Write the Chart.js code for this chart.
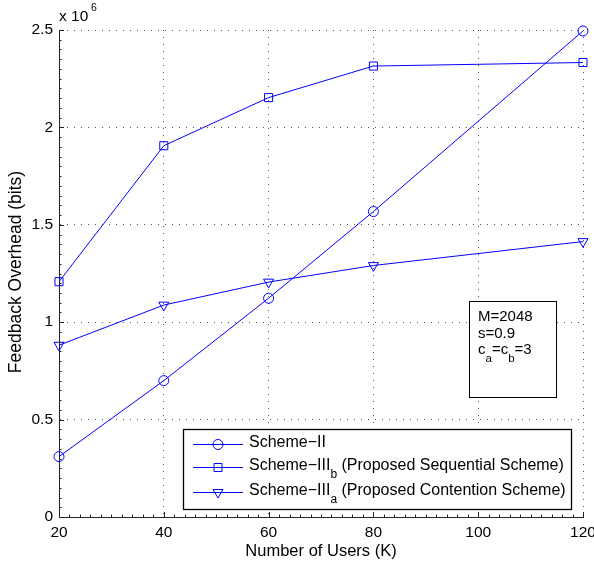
<!DOCTYPE html>
<html>
<head>
<meta charset="utf-8">
<script src="https://cdn.jsdelivr.net/npm/chart.js@4.4.0/dist/chart.umd.min.js"></script>
<style>
  html, body { margin: 0; padding: 0; background: #fff; }
  #wrap { width: 594px; height: 565px; }
</style>
</head>
<body>
<div id="wrap"><canvas id="c" width="594" height="565"></canvas></div>
<script>
// ---------- DATA ----------
const USERS = [20, 40, 60, 80, 120];
const SCHEME_II = [0.31, 0.70, 1.123, 1.568, 2.495];
const SCHEME_IIIB = [1.208, 1.906, 2.153, 2.315, 2.333];
const SCHEME_IIIA = [0.882, 1.088, 1.206, 1.291, 1.414];

const X_TICKS = [20, 40, 60, 80, 100, 120];
const Y_TICKS = [0, 0.5, 1, 1.5, 2, 2.5];
const Y_TICK_LABELS = ["0", "0.5", "1", "1.5", "2", "2.5"];

const BLUE = "#0000ff";
const FONT = "'Liberation Sans', Arial, Helvetica, sans-serif";

function series(values) {
  return values.map((v, i) => ({ x: USERS[i], y: v }));
}

// ---------- OVERLAY (ticks, labels, legend, note) ----------
const overlay = {
  id: "overlay",
  afterDraw(chart) {
    const { ctx, chartArea: a } = chart;
    const xs = chart.scales.x, ys = chart.scales.y;
    ctx.save();

    // inward ticks, MATLAB style
    ctx.strokeStyle = "#222";
    ctx.lineWidth = 1;
    ctx.beginPath();
    for (let v = 20; v <= 120.001; v += 2) {
      const px = Math.round(xs.getPixelForValue(v)) + 0.5;
      const len = Math.abs(v % 20) < 0.01 ? 5 : 2.5;
      ctx.moveTo(px, a.bottom);
      ctx.lineTo(px, a.bottom - len);
    }
    for (let i = 0; i <= 50; i++) {
      const v = i * 0.05;
      const py = Math.round(ys.getPixelForValue(v)) + 0.5;
      const len = i % 10 === 0 ? 5 : 2.5;
      ctx.moveTo(a.left, py);
      ctx.lineTo(a.left + len, py);
    }
    ctx.stroke();

    // tick labels
    ctx.fillStyle = "#000";
    ctx.font = "15.5px " + FONT;
    ctx.textBaseline = "middle";
    ctx.textAlign = "right";
    Y_TICKS.forEach((v, i) => {
      ctx.fillText(Y_TICK_LABELS[i], a.left - 6, ys.getPixelForValue(v));
    });
    ctx.textAlign = "center";
    X_TICKS.forEach(v => {
      ctx.fillText(String(v), xs.getPixelForValue(v), a.bottom + 16);
    });

    // axis titles
    ctx.font = "16.5px " + FONT;
    ctx.fillText("Number of Users (K)", (a.left + a.right) / 2, a.bottom + 34);
    ctx.save();
    ctx.translate(16, 272);
    ctx.rotate(-Math.PI / 2);
    ctx.font = "17.5px " + FONT;
    ctx.fillText("Feedback Overhead (bits)", 0, 0);
    ctx.restore();

    // exponent
    ctx.textAlign = "left";
    ctx.font = "15.5px " + FONT;
    ctx.fillText("x 10", 59, 17);
    ctx.font = "10.5px " + FONT;
    ctx.fillText("6", 91, 8);

    // note box
    ctx.lineWidth = 1;
    ctx.strokeStyle = "#000";
    ctx.fillStyle = "#fff";
    ctx.fillRect(469.5, 301.5, 87, 96);
    ctx.strokeRect(469.5, 301.5, 87, 96);
    ctx.fillStyle = "#000";
    ctx.font = "15px " + FONT;
    ctx.fillText("M=2048", 478, 317);
    ctx.fillText("s=0.9", 478, 334);
    let tx = 478;
    const parts = [["c", 0], ["a", 1], ["=c", 0], ["b", 1], ["=3", 0]];
    parts.forEach(([t, sub]) => {
      ctx.font = (sub ? "11.5px " : "15px ") + FONT;
      ctx.fillText(t, tx, sub ? 359 : 350);
      tx += ctx.measureText(t).width;
    });

    // legend
    ctx.fillStyle = "#fff";
    ctx.fillRect(183, 429, 388, 80);
    ctx.lineWidth = 1.3;
    ctx.strokeStyle = "#000";
    ctx.strokeRect(183.5, 429.5, 388, 80);
    const rows = [
      { y: 444, style: "circle", main: "Scheme\u2212II", sub: "", rest: "" },
      { y: 467, style: "rect", main: "Scheme\u2212III", sub: "b", rest: " (Proposed Sequential Scheme)" },
      { y: 492, style: "tri", main: "Scheme\u2212III", sub: "a", rest: " (Proposed Contention Scheme)" }
    ];
    rows.forEach(r => {
      ctx.strokeStyle = BLUE;
      ctx.lineWidth = 1;
      ctx.beginPath();
      ctx.moveTo(193, r.y + 0.5);
      ctx.lineTo(243, r.y + 0.5);
      ctx.stroke();
      ctx.beginPath();
      const mx = 218, my = r.y + 0.5;
      if (r.style === "circle") {
        ctx.arc(mx, my, 5, 0, Math.PI * 2);
      } else if (r.style === "rect") {
        ctx.rect(mx - 4, my - 4, 8, 8);
      } else {
        ctx.moveTo(mx - 5, my - 3);
        ctx.lineTo(mx + 5, my - 3);
        ctx.lineTo(mx, my + 5.5);
        ctx.closePath();
      }
      ctx.stroke();

      ctx.fillStyle = "#000";
      let lx = 249;
      ctx.font = "16px " + FONT;
      ctx.fillText(r.main, lx, r.y - 1);
      lx += ctx.measureText(r.main).width;
      if (r.sub) {
        ctx.font = "12px " + FONT;
        ctx.fillText(r.sub, lx, r.y + 8);
        lx += ctx.measureText(r.sub).width;
        ctx.font = "16px " + FONT;
        ctx.fillText(r.rest, lx, r.y - 1);
      }
    });

    ctx.restore();
  }
};

// ---------- CHART ----------
const common = {
  borderColor: BLUE,
  backgroundColor: "rgba(0,0,0,0)",
  pointBorderColor: BLUE,
  pointBackgroundColor: "rgba(0,0,0,0)",
  borderWidth: 1,
  pointBorderWidth: 1,
  tension: 0,
  clip: false
};

new Chart(document.getElementById("c"), {
  type: "line",
  data: {
    datasets: [
      { ...common, label: "Scheme-II", data: series(SCHEME_II), pointStyle: "circle", pointRadius: 5 },
      { ...common, label: "Scheme-IIIb", data: series(SCHEME_IIIB), pointStyle: "rect", pointRadius: 5.7 },
      { ...common, label: "Scheme-IIIa", data: series(SCHEME_IIIA), pointStyle: "triangle", pointRadius: 5.8, pointRotation: 180 }
    ]
  },
  options: {
    responsive: false,
    animation: false,
    layout: { padding: { left: 59, right: 11, top: 30, bottom: 48 } },
    plugins: { legend: { display: false }, tooltip: { enabled: false } },
    scales: {
      x: {
        type: "linear", min: 20, max: 120,
        ticks: { display: false, stepSize: 20 },
        grid: { color: "#555", drawTicks: false, lineWidth: 1 },
        border: { display: true, color: "#222", width: 1, dash: [1, 6] },
        afterFit: s => { s.height = 0; }
      },
      y: {
        min: 0, max: 2.5,
        ticks: { display: false, stepSize: 0.5 },
        grid: { color: "#555", drawTicks: false, lineWidth: 1 },
        border: { display: true, color: "#222", width: 1, dash: [1, 6] },
        afterFit: s => { s.width = 0; }
      }
    }
  },
  plugins: [overlay]
});
</script>
</body>
</html>
